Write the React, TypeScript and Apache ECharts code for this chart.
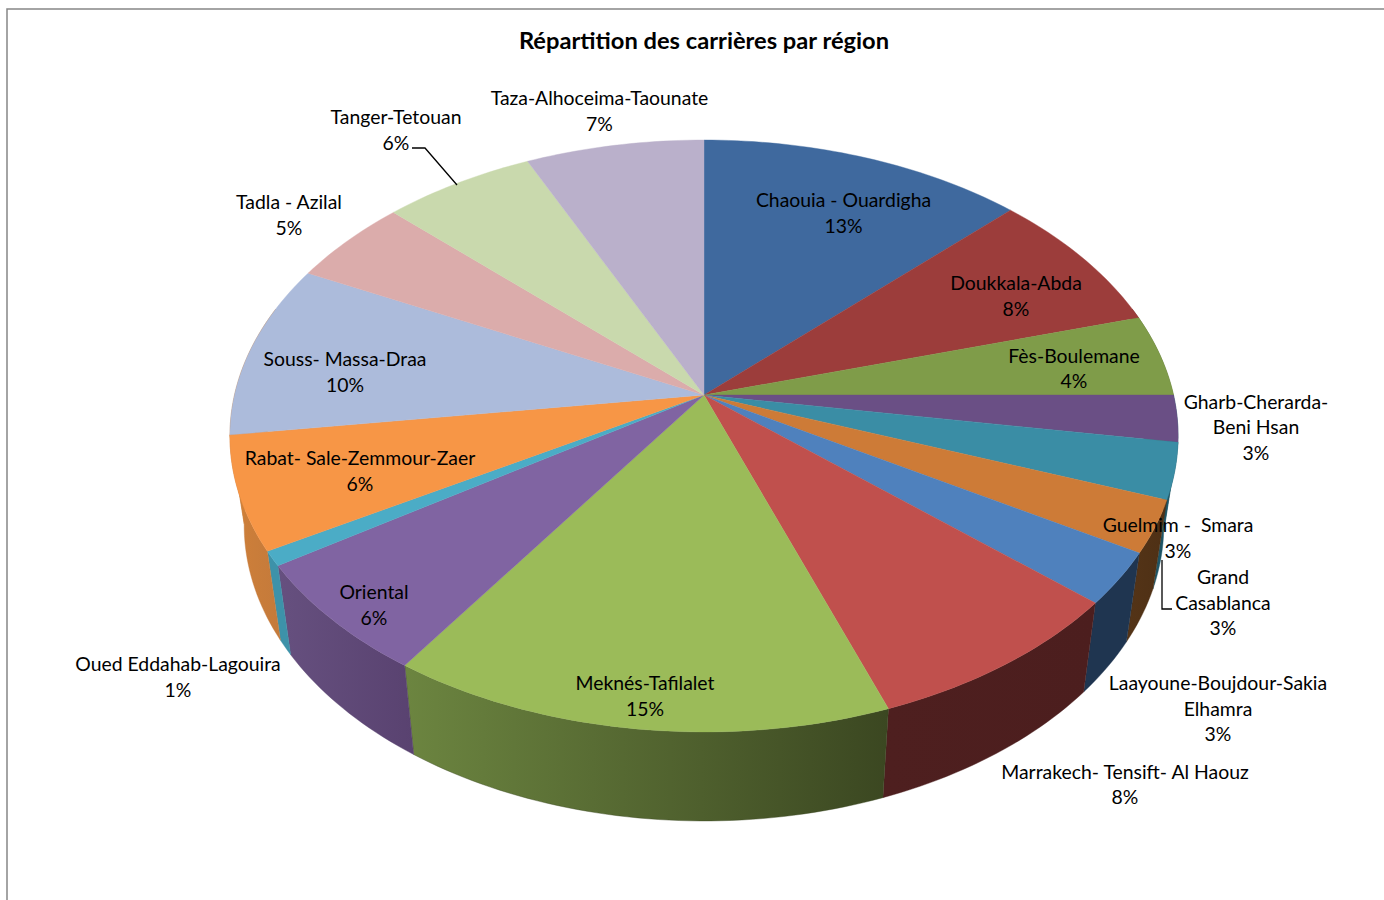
import React, { useEffect, useRef } from "react";
import * as echarts from "echarts";

const TITLE = "Répartition des carrières par région";
const regions = [
  "Chaouia - Ouardigha", "Doukkala-Abda", "Fès-Boulemane", "Gharb-Cherarda-\nBeni Hsan",
  "Guelmim -  Smara", "Grand\nCasablanca", "Laayoune-Boujdour-Sakia\nElhamra", "Marrakech- Tensift- Al Haouz",
  "Meknés-Tafilalet", "Oriental", "Oued Eddahab-Lagouira", "Rabat- Sale-Zemmour-Zaer",
  "Souss- Massa-Draa", "Tadla - Azilal", "Tanger-Tetouan", "Taza-Alhoceima-Taounate",
];
const shares = [12.7, 7.85, 4.45, 2.55, 3.05, 2.85, 2.85, 8.15, 15.1, 6.3, 0.8, 6.2, 9.5, 4.75, 5.95, 6.95];
const topColors = [
  "#3F699E", "#9C3D3B", "#7F9C49", "#6A4F85", "#3A8DA5", "#CD7B37", "#4F81BD", "#C0504D",
  "#9BBB59", "#8064A2", "#4BACC6", "#F79646", "#ACBBDB", "#DBACAB", "#C9D9AD", "#BAB0CB",
];
const wallColors: [string, string][] = [
  ["#2A4668", "#2A4668"], ["#672927", "#672927"], ["#556830", "#556830"], ["#1F5566", "#1F5566"],
  ["#1F5566", "#1F5566"], ["#543417", "#4E3015"], ["#1F3550", "#1F3550"], ["#4E1F1F", "#4C1E1E"],
  ["#6C8540", "#3B4721"], ["#66507F", "#594270"], ["#3D92A9", "#3D92A9"], ["#CF8039", "#C47A3B"],
  ["#CF8039", "#CF8039"], ["#A38080", "#A38080"], ["#95A180", "#95A180"], ["#8A8397", "#8A8397"],
];
const labelCentres = [
  [843.5, 212.5], [1016, 295.5], [1074, 368], [1256, 426.5], [1178, 537.5], [1223, 602], [1218, 708], [1125, 784],
  [645, 695.5], [374, 604.5], [178, 676.5], [360, 470.5], [345, 371.5], [289, 214.5], [396, 129.5], [599.5, 110.5],
];

// Perspective disc
const APEX_X = 704, APEX_Y = 395, RX = 469.5, RY = 290.3, TILT = 0.1385, DEPTH = 89, FLOOR_SCALE = 0.97;
const total = shares.reduce((a, b) => a + b, 0);
const starts = shares.map((_, i) => shares.slice(0, i).reduce((a, b) => a + b, 0));

function project(theta: number) {
  const X = Math.sin(theta), Y = -Math.cos(theta), w = 1 - TILT * Y;
  return [APEX_X + (RX * X) / w, APEX_Y + (RY * Y) / w];
}
function arc(from: number, to: number) {
  const n = Math.max(2, Math.ceil((to - from) / 0.02));
  const pts: number[][] = [];
  for (let k = 0; k <= n; k++) pts.push(project(from + ((to - from) * k) / n));
  return pts;
}
const angle = (share: number) => (share / total) * Math.PI * 2;

export default function App() {
  const ref = useRef<HTMLDivElement>(null);
  useEffect(() => {
    const chart = echarts.init(ref.current!, undefined, { renderer: "svg" });
    const data = shares.map((v) => [v]);
    chart.setOption({
      animation: false,
      backgroundColor: "#ffffff",
      title: {
        text: TITLE, left: 699, top: 23, textAlign: "center",
        textStyle: { fontFamily: "Lato", fontWeight: "bold", fontSize: 23.7, color: "#000" },
      },
      graphic: [
        { type: "polyline", silent: true, shape: { points: [[7, 900], [7, 9], [1384, 9]] }, style: { stroke: "#868686", lineWidth: 1.5, fill: "none" } },
        { type: "polyline", silent: true, z: 20, shape: { points: [[412, 148], [425, 148], [457, 185]] }, style: { stroke: "#000", lineWidth: 1.3, fill: "none" } },
        { type: "polyline", silent: true, z: 20, shape: { points: [[1162, 560], [1162, 609], [1172, 609]] }, style: { stroke: "#000", lineWidth: 1.3, fill: "none" } },
      ],
      series: [
        {
          type: "custom", coordinateSystem: "none", z: 2, silent: true, data,
          renderItem(params: any, api: any) {
            const i = params.dataIndex;
            const a = Math.max(angle(starts[i]), Math.PI * 0.4);
            const b = Math.min(angle(starts[i] + api.value(0)), Math.PI * 1.6);
            if (b <= a) return null;
            const top = arc(a, b);
            const floor = top.map(([x, y]) => [APEX_X + (x - APEX_X) * FLOOR_SCALE, y + DEPTH]).reverse();
            const [c0, c1] = wallColors[i];
            return {
              type: "polygon",
              shape: { points: top.concat(floor) },
              style: {
                fill: { type: "linear", x: 0, y: 0, x2: 1, y2: 0, colorStops: [{ offset: 0, color: c0 }, { offset: 1, color: c1 }] },
                stroke: c1, lineWidth: 0.4,
              },
            };
          },
        },
        {
          type: "custom", coordinateSystem: "none", z: 3, silent: true, data,
          renderItem(params: any, api: any) {
            const i = params.dataIndex;
            const pts = arc(angle(starts[i]), angle(starts[i] + api.value(0)));
            pts.push([APEX_X, APEX_Y]);
            return {
              type: "polygon",
              shape: { points: pts },
              style: { fill: topColors[i], stroke: topColors[i], lineWidth: 0.4 },
            };
          },
        },
        {
          type: "custom", coordinateSystem: "none", z: 10, silent: true, data,
          renderItem(params: any, api: any) {
            const i = params.dataIndex;
            const [x, y] = labelCentres[i];
            return {
              type: "text",
              style: {
                text: `${regions[i]}\n${Math.round(api.value(0))}%`,
                x, y, align: "center", verticalAlign: "middle",
                fontFamily: "Lato", fontSize: 19.4, lineHeight: 25.5, fill: "#000",
              },
            };
          },
        },
      ],
    });
    return () => chart.dispose();
  }, []);
  return <div ref={ref} style={{ position: "fixed", left: 0, top: 0, width: 1384, height: 900 }} />;
}
